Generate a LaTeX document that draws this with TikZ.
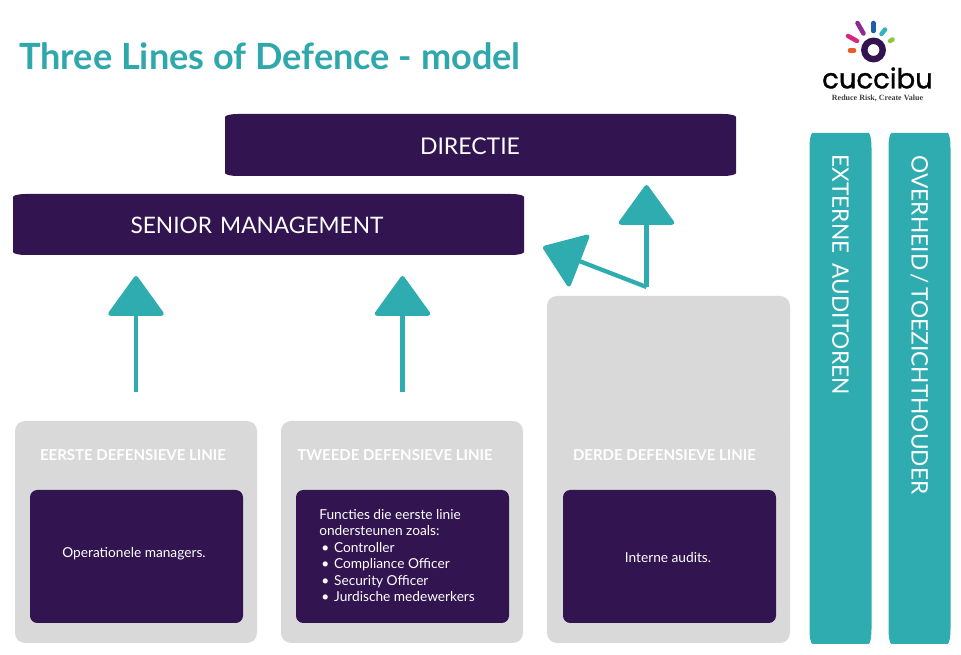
\documentclass[tikz,border=0pt]{standalone}
\usepackage{fontspec}
\setmainfont{Lato}
\usetikzlibrary{arrows.meta}
\newfontfamily\brandfont[FakeBold=1.2]{Poppins}
\definecolor{plum}{HTML}{321450}
\definecolor{lagoon}{HTML}{2FACB0}
\definecolor{panel}{HTML}{D9D9D9}
\definecolor{titleteal}{HTML}{2FA8AC}
\definecolor{logoorange}{HTML}{EA5B2A}
\definecolor{logopink}{HTML}{D6267F}
\definecolor{logopurple}{HTML}{8E2C8E}
\definecolor{logoblue}{HTML}{1F5FA8}
\definecolor{logocyan}{HTML}{2FB5C0}
\definecolor{logogreen}{HTML}{8DC63F}
\newcommand{\pxfont}[1]{\fontsize{\the\dimexpr #1pt*3/4\relax}{\the\dimexpr #1pt*9/10\relax}\selectfont}
% closed bar whose corners are flat ellipses: corners (x0,y0), (x1,y1), radii rx, ry
\newcommand{\flatbar}[7]{%
  \fill[#1] (#2+#6,#3) -- (#4-#6,#3)
    .. controls (#4-#6*0.45,#3) and (#4,#3+#7*0.45) .. (#4,#3+#7)
    -- (#4,#5-#7)
    .. controls (#4,#5-#7*0.45) and (#4-#6*0.45,#5) .. (#4-#6,#5)
    -- (#2+#6,#5)
    .. controls (#2+#6*0.45,#5) and (#2,#5-#7*0.45) .. (#2,#5-#7)
    -- (#2,#3+#7)
    .. controls (#2,#3+#7*0.45) and (#2+#6*0.45,#3) .. (#2+#6,#3) -- cycle;}
\tikzset{
  x=0.75pt, y=-0.75pt,
  panelbox/.style={fill=panel, rounded corners=7.5pt},
  innerbox/.style={fill=plum, rounded corners=5.5pt},
  bartext/.style={text=white, font=\pxfont{22.7}},
  paneltitle/.style={text=white, font=\bfseries\pxfont{15}},
  innertext/.style={text=white, font=\pxfont{13.7}},
  bigarrow/.style={draw=lagoon, line width=3.2pt,
    -{Triangle[length=31pt, width=44pt, round, fill=lagoon]}},
  petal/.style={line width=3.4pt, line cap=round},
}
\begin{document}
\begin{tikzpicture}
\useasboundingbox (0,0) rectangle (961,655);

\node[anchor=west, inner sep=0pt, text=titleteal, font=\bfseries\pxfont{36.1}] (title) at (19,56) {Three Lines of Defence - model};

% logo
\draw[petal, color=logoorange] (850,50.5) -- (854,50.5);
\draw[petal, color=logopink] (848,36) -- (857,41);
\draw[petal, color=logopurple] (857.5,23) -- (863.5,33.5);
\draw[petal, color=logoblue] (873.3,23) -- (873.3,31);
\draw[petal, color=logocyan] (885,29.5) -- (881.5,34);
\draw[petal, color=logogreen] (892.5,39.5) -- (890,41);
\draw[plum, line width=4.8pt] (873.5,50) circle (9.2);
\node[inner sep=0pt, text=black, font=\brandfont\pxfont{27.5}] (brand) at (877.5,78) {cuccibu};
\node[inner sep=0pt, text=black!75, font=\fontspec{Liberation Serif}\bfseries\pxfont{8}] (tagline) at (877.5,98.5) {Reduce Risk, Create Value};

% side bars
\flatbar{lagoon}{809.5}{133}{871.5}{644}{3}{15}
\flatbar{lagoon}{888.5}{133}{950.5}{644}{3}{15}
\node[bartext, rotate=-90] (ext) at (840.5,274.5) {EXTERNE\hspace{0.2em} AUDITOREN};
\node[bartext, rotate=-90] (gov) at (919.5,325) {OVERHEID\hspace{-0.1em} /\hspace{-0.1em} TOEZICHTHOUDER};

% top bars
\flatbar{plum}{225}{114}{736}{176}{13}{3}
\flatbar{plum}{13}{194}{524}{255}{13}{3}
\node[bartext, font=\pxfont{23}] (dir) at (470,146) {DIRECTIE};
\node[bartext] (sm) at (257,225) {SENIOR\hspace{0.1em} MANAGEMENT};

% three defence lines
\fill[panelbox] (547,296) rectangle (790,513);
\fill[panelbox] (15,421) rectangle (257,643);
\fill[panelbox] (281,421) rectangle (523,643);
\fill[panelbox] (547,421) rectangle (790,643);

\node[paneltitle] (t1) at (133,455.5) {EERSTE DEFENSIEVE LINIE};
\node[paneltitle] (t2) at (395,455.5) {TWEEDE DEFENSIEVE LINIE};
\node[paneltitle] (t3) at (664.5,455.5) {DERDE DEFENSIEVE LINIE};

\fill[innerbox] (30,490) rectangle (243,623);
\fill[innerbox] (296,490) rectangle (509,623);
\fill[innerbox] (563,490) rectangle (776,623);

\node[innertext] (o1) at (134,554) {Operationele managers.};
\node[innertext] (o3) at (668,558) {Interne audits.};
\node[innertext, anchor=north west, align=left, inner sep=0pt] (o2) at (319,509) {%
  Functies die eerste linie\\
  ondersteunen zoals:\\
  \hspace*{1.6pt}\textbullet\hspace{3.6pt}Controller\\
  \hspace*{1.6pt}\textbullet\hspace{3.6pt}Compliance Officer\\
  \hspace*{1.6pt}\textbullet\hspace{3.6pt}Security Officer\\
  \hspace*{1.6pt}\textbullet\hspace{3.6pt}Jurdische medewerkers};

% reporting arrows
\coordinate (a1s) at (136,392);
\coordinate (a1e) at (136,276);
\coordinate (a2s) at (402.5,392);
\coordinate (a2e) at (402.5,276);
\coordinate (a3s) at (646.5,287);
\coordinate (a3e) at (646.5,185);
\coordinate (a4e) at (543,247);
\draw[bigarrow] (a1s) -- (a1e);
\draw[bigarrow] (a2s) -- (a2e);
\draw[bigarrow] (a3s) -- (a3e);
\draw[bigarrow] (a3s) -- (a4e);
\end{tikzpicture}
\end{document}
